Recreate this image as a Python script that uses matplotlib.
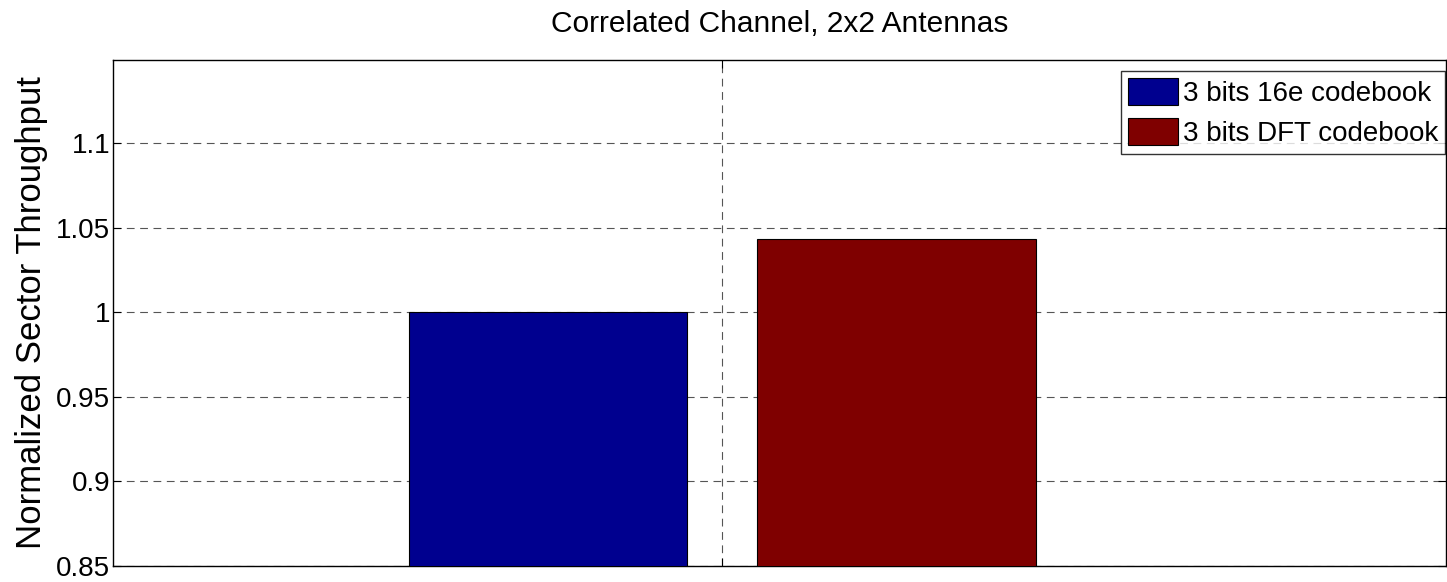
import matplotlib
matplotlib.use("Agg")
import matplotlib.pyplot as plt
from matplotlib.ticker import FixedLocator, NullFormatter

plt.rcParams['font.family'] = ['Liberation Sans', 'DejaVu Sans']

# data
series = ["3 bits 16e codebook", "3 bits DFT codebook"]
throughput = [1.0, 1.0435]
colors = ["#00008f", "#7f0000"]
yticks = [0.85, 0.9, 0.95, 1.0, 1.05, 1.1]
ytick_labels = ["0.85", "0.9", "0.95", "1", "1.05", "1.1"]

group_x = 1.0
offsets = [-0.125, 0.125]
bar_w = 0.2

fig = plt.figure(figsize=(14.47, 5.82), dpi=100)
ax = fig.add_axes([113 / 1447, 16 / 582, 1333 / 1447, 506 / 582])

for name, val, col, off in zip(series, throughput, colors, offsets):
    ax.bar(group_x + off, val, width=bar_w, color=col, edgecolor="black",
           linewidth=0.8, label=name, zorder=3)

ax.set_ylim(0.85, 1.149)
ax.set_xlim(0.563, 1.519)
ax.yaxis.set_major_locator(FixedLocator(yticks))
ax.set_yticklabels(ytick_labels)
ax.set_xticks([group_x])
ax.xaxis.set_major_formatter(NullFormatter())

ax.grid(True, linestyle=(0, (7, 5)), color="#555555", linewidth=0.8, zorder=0)
ax.tick_params(axis="both", direction="in", length=6, labelsize=20, pad=2)
ax.tick_params(top=True, right=True)
for s in ax.spines.values():
    s.set_linewidth(1.0)

ax.set_ylabel("Normalized Sector Throughput", fontsize=25, labelpad=6)
ax.set_title("Correlated Channel, 2x2 Antennas", fontsize=21.5, pad=20)

leg = ax.legend(loc="upper right", bbox_to_anchor=(1445 / 1447, 1 - 71 / 582),
                bbox_transform=fig.transFigure, borderaxespad=0,
                fontsize=20, frameon=True, fancybox=False,
                edgecolor="black", borderpad=0.25, handlelength=1.8,
                handleheight=1.1, handletextpad=0.18, labelspacing=0.4)
leg.get_frame().set_linewidth(1.0)
leg.set_zorder(5)

fig.savefig("out.png", dpi=100)
